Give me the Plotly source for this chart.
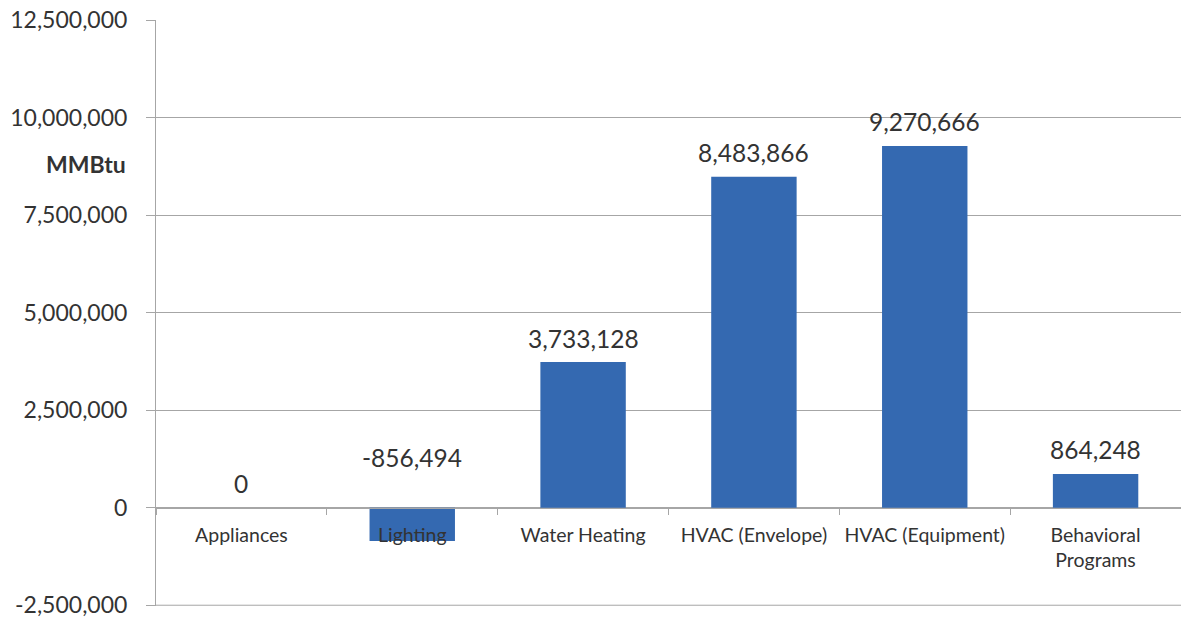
import plotly.graph_objects as go

# Energy savings by end use (MMBtu)
categories = ["Appliances", "Lighting", "Water Heating", "HVAC (Envelope)",
              "HVAC (Equipment)", "Behavioral<br>Programs"]
savings = [0, -856494, 3733128, 8483866, 9270666, 864248]

y_ticks = [-2500000, 0, 2500000, 5000000, 7500000, 10000000, 12500000]
y_tick_labels = [f"{v:,}" for v in y_ticks]

FONT = "Lato"
TEXT = "#333333"
GRID = "#a6a6a6"
BAR = "#3469b1"

# a hair of headroom below the last tick so its label and gridline are kept
y_min, y_max = -2520000, 12500000

fig = go.Figure()
fig.add_trace(go.Bar(
    x=categories,
    y=savings,
    marker=dict(color=BAR, line=dict(width=0)),
    hoverinfo="skip",
))

# Value labels above each bar (negative values are labelled above the zero line)
for cat, v in zip(categories, savings):
    fig.add_annotation(
        x=cat, y=max(v, 0), xref="x", yref="y",
        text=f"{v:,}", showarrow=False,
        yanchor="middle", yshift=(50 if v < 0 else 24),
        font=dict(family=FONT, size=24.5, color=TEXT),
    )

# Axis unit label
fig.add_annotation(
    x=0, y=8800000, xref="paper", yref="y",
    text="<b>MMBtu</b>", showarrow=False,
    xanchor="right", xshift=-28, yanchor="middle",
    font=dict(family=FONT, size=23, color=TEXT),
)

# Bottom gridline at the lowest tick
fig.add_shape(
    type="line", xref="paper", yref="y",
    x0=0, x1=1, y0=y_ticks[0], y1=y_ticks[0],
    line=dict(color=GRID, width=1), layer="below",
)

zero_pos = (0 - y_min) / (y_max - y_min)

fig.update_layout(
    width=1181, height=617,
    margin=dict(l=156, r=0, t=20, b=11),
    paper_bgcolor="white", plot_bgcolor="white",
    showlegend=False,
    bargap=0.5,
    font=dict(family=FONT, color=TEXT),
    xaxis=dict(
        type="category",
        anchor="free", position=zero_pos,
        showline=True, linecolor=GRID, linewidth=1,
        ticks="outside", tickson="boundaries", ticklen=6, tickcolor=GRID,
        showgrid=False, zeroline=False,
        tickfont=dict(family=FONT, size=19.5, color=TEXT),
        ticklabelstandoff=10,
    ),
    yaxis=dict(
        range=[y_min, y_max],
        tickvals=y_ticks,
        ticktext=y_tick_labels,
        showgrid=True, gridcolor=GRID, gridwidth=1,
        zeroline=True, zerolinecolor=GRID, zerolinewidth=1,
        showline=True, linecolor=GRID, linewidth=1,
        ticks="outside", ticklen=9, tickcolor=GRID,
        tickfont=dict(family=FONT, size=23, color=TEXT),
        ticklabelstandoff=14,
        ticklabeloverflow="allow",
    ),
)

fig.write_html("out.html")
